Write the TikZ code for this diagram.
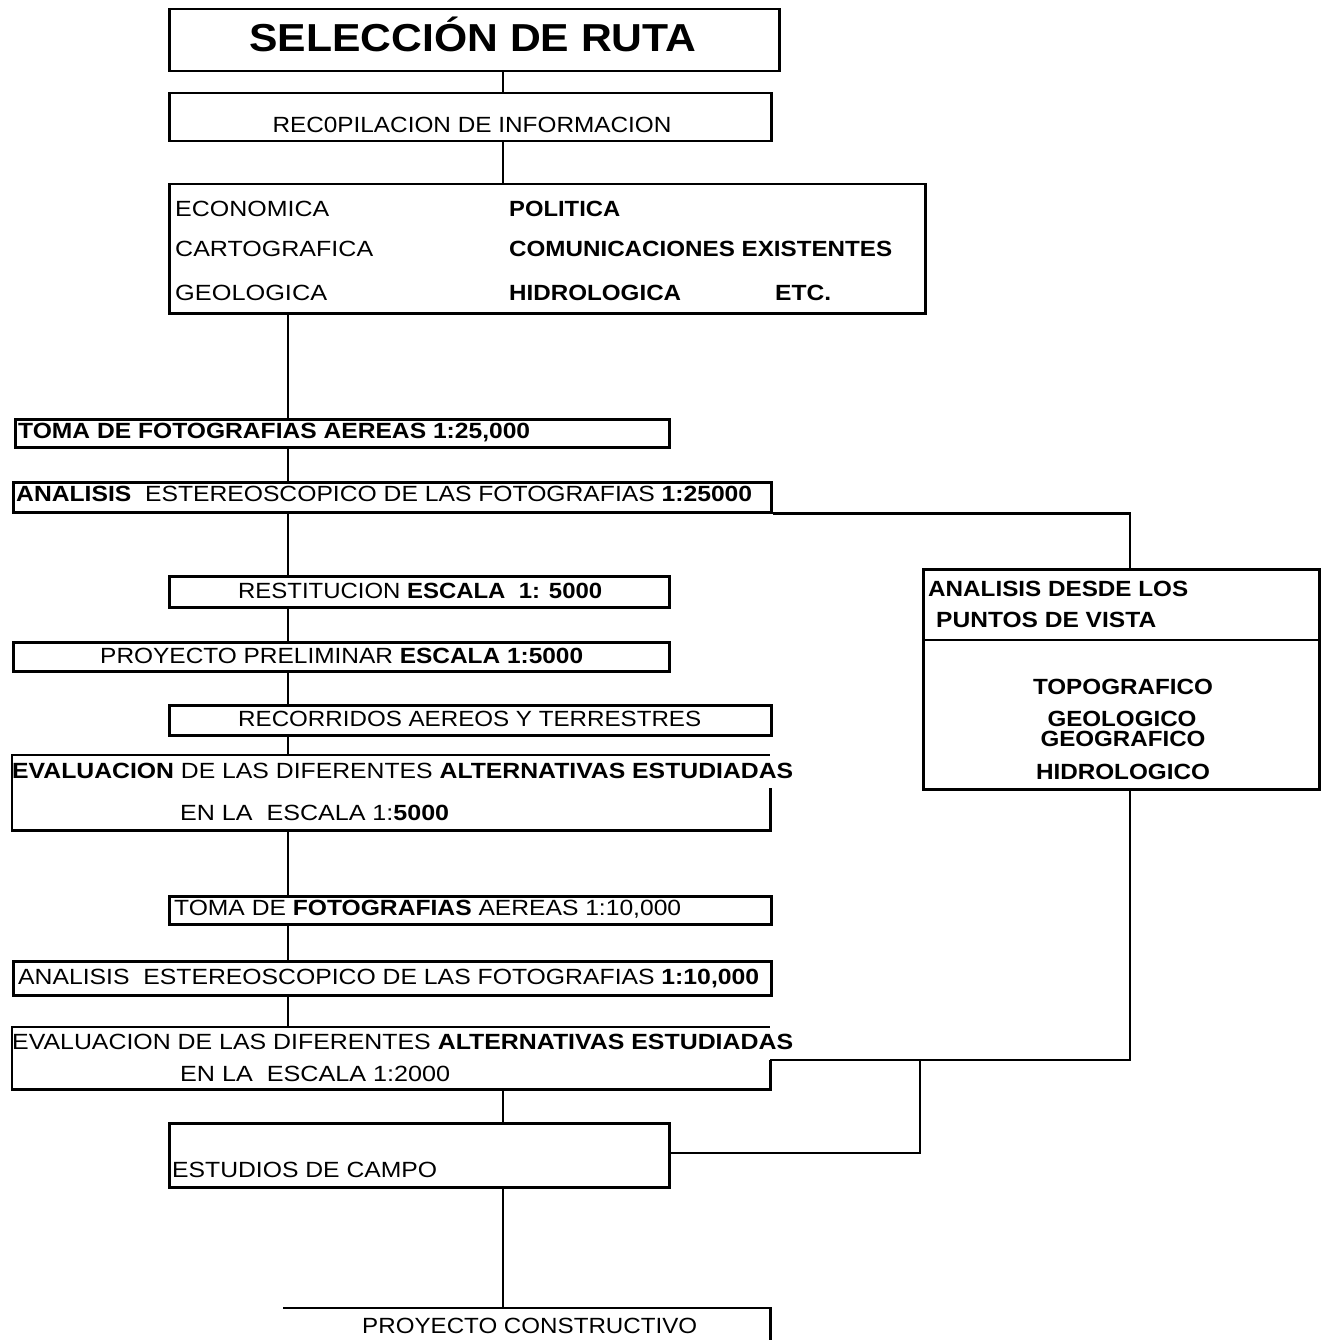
\documentclass[tikz,border=0pt]{standalone}
\usepackage{fontspec}
\setmainfont{Liberation Sans}
\usepackage{graphicx}
\usetikzlibrary{calc}
\newsavebox\fitbox
\newcommand\fitto[2]{\sbox\fitbox{#2}\pgfmathsetmacro\fitr{#1/\the\wd\fitbox}\scalebox{\fitr}[1]{\usebox\fitbox}}
\tikzset{
  box/.style={draw, line width=2.5pt, inner sep=0pt, anchor=north west},
  openbox/.style={inner sep=0pt, anchor=north west},
  lbl/.style={inner sep=0pt, anchor=west, text height=15.5pt, text depth=0pt, font=\fontsize{22}{24}\selectfont},
  blbl/.style={lbl, font=\fontsize{22}{24}\selectfont\bfseries},
  clbl/.style={lbl, anchor=center},
  cblbl/.style={blbl, anchor=center},
  thin conn/.style={line width=1.5pt},
  mid conn/.style={line width=2.3pt},
  thick conn/.style={line width=2.8pt},
  edge/.style={line width=2.5pt}
}
\begin{document}
\begin{tikzpicture}[x=1pt,y=-1pt]
\useasboundingbox[fill=white] (0,0) rectangle (1323,1340);
% columns / junctions
\coordinate (cA) at (288,0);
\coordinate (cB) at (503,0);
\coordinate (cR) at (1130,0);
\coordinate (jr) at (1130,1060);
\coordinate (jm) at (920,1060);
\coordinate (js) at (920,1153);
\coordinate (dv) at (0,640);
% boxes
\node[box, minimum width=610pt, minimum height=62pt] (title) at (168,8) {};
\node[box, minimum width=602pt, minimum height=48pt] (recop) at (168,92) {};
\node[box, minimum width=756pt, minimum height=129pt] (info) at (168,183) {};
\node[box, minimum width=654pt, minimum height=28pt] (toma25) at (14,418) {};
\node[box, minimum width=758pt, minimum height=30pt] (anal25) at (12,481) {};
\node[box, minimum width=500pt, minimum height=31pt] (rest) at (168,575) {};
\node[box, minimum width=656pt, minimum height=29pt] (prel) at (12,641) {};
\node[box, minimum width=602pt, minimum height=30pt] (recor) at (168,704) {};
\node[openbox, minimum width=758pt, minimum height=75pt] (eval1) at (12,755) {};
\node[box, minimum width=602pt, minimum height=28pt] (toma10) at (168,895) {};
\node[box, minimum width=758pt, minimum height=34pt] (anal10) at (12,960) {};
\node[openbox, minimum width=758pt, minimum height=62pt] (eval2) at (12,1027) {};
\node[box, minimum width=500pt, minimum height=64pt] (estud) at (168,1122) {};
\node[openbox, minimum width=487pt, minimum height=40pt] (proyc) at (283,1308) {};
\node[box, minimum width=396pt, minimum height=220pt] (desde) at (922,568) {};
% open outlines
\draw[edge] ([yshift=-33pt]eval1.north east) -- (eval1.south east) -- (eval1.south west) -- (eval1.north west) -- (eval1.north east);
\draw[edge] ([yshift=-33pt]eval2.north east) -- (eval2.south east) -- (eval2.south west) -- (eval2.north west) -- (eval2.north east);
\draw[edge] (proyc.north west) -- (proyc.north east) -- (proyc.south east);
\draw[line width=2pt] (desde.west |- dv) -- (desde.east |- dv);
% texts
\node[cblbl, text height=28pt, font=\fontsize{39}{42}\selectfont\bfseries] (ttitle) at (473,38) {\fitto{447}{SELECCIÓN DE RUTA}};
\node[clbl] (trecop) at (472,125) {\fitto{399}{REC0PILACION DE INFORMACION}};
\node[lbl] (teco) at (175,209) {\fitto{154}{ECONOMICA}};
\node[lbl] (tcar) at (175,249) {\fitto{198}{CARTOGRAFICA}};
\node[lbl] (tgeo) at (175,293) {\fitto{152}{GEOLOGICA}};
\node[blbl] (tpol) at (509,209) {\fitto{111}{POLITICA}};
\node[blbl] (tcom) at (509,249) {\fitto{383}{COMUNICACIONES EXISTENTES}};
\node[blbl] (thid) at (509,293) {\fitto{172}{HIDROLOGICA}};
\node[blbl] (tetc) at (775,293) {\fitto{56}{ETC.}};
\node[blbl] (ttoma25) at (18,431) {\fitto{512}{TOMA DE FOTOGRAFIAS AEREAS 1:25,000}};
\node[lbl] (tanal25) at (16,494) {\fitto{736}{\textbf{ANALISIS}\ \ ESTEREOSCOPICO DE LAS FOTOGRAFIAS \textbf{1:25000}}};
\node[lbl] (trest) at (238,591) {\fitto{364}{RESTITUCION \textbf{ESCALA\ \ 1: 5000}}};
\node[lbl] (tprel) at (100,656) {\fitto{483}{PROYECTO PRELIMINAR \textbf{ESCALA 1:5000}}};
\node[lbl] (trecor) at (238,719) {\fitto{463}{RECORRIDOS AEREOS Y TERRESTRES}};
\node[lbl] (tev1a) at (12,771) {\fitto{781}{\textbf{EVALUACION} DE LAS DIFERENTES \textbf{ALTERNATIVAS ESTUDIADAS}}};
\node[lbl] (tev1b) at (180,813) {\fitto{269}{EN LA\ \ ESCALA 1:\textbf{5000}}};
\node[lbl] (ttoma10) at (174,908) {\fitto{507}{TOMA DE \textbf{FOTOGRAFIAS} AEREAS 1:10,000}};
\node[lbl] (tanal10) at (18,977) {\fitto{741}{ANALISIS\ \ ESTEREOSCOPICO DE LAS FOTOGRAFIAS \textbf{1:10,000}}};
\node[lbl] (tev2a) at (12,1042) {\fitto{781}{EVALUACION DE LAS DIFERENTES \textbf{ALTERNATIVAS ESTUDIADAS}}};
\node[lbl] (tev2b) at (180,1074) {\fitto{270}{EN LA\ \ ESCALA 1:2000}};
\node[lbl] (testud) at (172,1170) {\fitto{265}{ESTUDIOS DE CAMPO}};
\node[lbl] (tproyc) at (362,1326) {\fitto{335}{PROYECTO CONSTRUCTIVO}};
\node[blbl] (tdesde1) at (928,589) {\fitto{260}{ANALISIS DESDE LOS}};
\node[blbl] (tdesde2) at (936,620) {\fitto{220}{PUNTOS DE VISTA}};
\node[cblbl] (ttopo) at (1123,687) {\fitto{180}{TOPOGRAFICO}};
\node[cblbl] (tgeol) at (1122,719) {\fitto{149}{GEOLOGICO}};
\node[cblbl] (tgeog) at (1123,739) {\fitto{165}{GEOGRAFICO}};
\node[cblbl] (thidr) at (1123,772) {\fitto{174}{HIDROLOGICO}};
% connectors
\draw[mid conn] (title.south -| cB) -- (recop.north -| cB);
\draw[mid conn] (recop.south -| cB) -- (info.north -| cB);
\draw[thin conn] (info.south -| cA) -- (toma25.north -| cA);
\draw[thin conn] (toma25.south -| cA) -- (anal25.north -| cA);
\draw[thin conn] (anal25.south -| cA) -- (rest.north -| cA);
\draw[thin conn] (rest.south -| cA) -- (prel.north -| cA);
\draw[thin conn] (prel.south -| cA) -- (recor.north -| cA);
\draw[thin conn] (recor.south -| cA) -- (eval1.north -| cA);
\draw[thin conn] (eval1.south -| cA) -- (toma10.north -| cA);
\draw[thin conn] (toma10.south -| cA) -- (anal10.north -| cA);
\draw[thin conn] (anal10.south -| cA) -- (eval2.north -| cA);
\draw[mid conn] (eval2.south -| cB) -- (estud.north -| cB);
\draw[mid conn] (estud.south -| cB) -- (proyc.north -| cB);
\draw[thick conn] (anal25.south east) -| (desde.north -| cR);
\draw[thick conn] (desde.south -| cR) -- (jr) -- (eval2.east |- jr);
\draw[thick conn] (jm) -- (js) -- (estud.east |- js);
\end{tikzpicture}
\end{document}
